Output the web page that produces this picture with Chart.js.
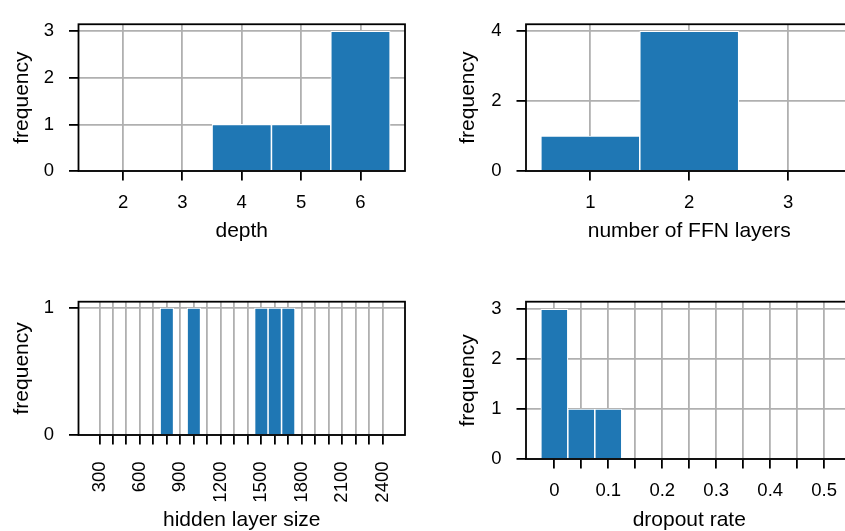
<!DOCTYPE html>
<html>
<head>
<meta charset="utf-8">
<script src="https://cdn.jsdelivr.net/npm/chart.js@4.4.1/dist/chart.umd.min.js"></script>
<style>
  html, body { margin: 0; padding: 0; background: #fff; overflow: hidden; width: 845px; height: 531px; }
  canvas { position: absolute; }
</style>
</head>
<body>
<canvas id="depth" width="420" height="260" style="left:0;top:0"></canvas>
<canvas id="ffn" width="440" height="260" style="left:420px;top:0"></canvas>
<canvas id="hidden" width="420" height="261" style="left:0;top:270px"></canvas>
<canvas id="dropout" width="440" height="261" style="left:420px;top:270px"></canvas>
<script>
// histogram bins (bin centres) and counts
var depthBins = [2, 3, 4, 5, 6];
var depthCounts = [0, 0, 1, 1, 3];
var depthTicks = [2, 3, 4, 5, 6];
var depthTickLabels = ['2', '3', '4', '5', '6'];
var depthCountTicks = [0, 1, 2, 3];

var ffnBins = [1, 2, 3];
var ffnCounts = [1, 4, 0];
var ffnTicks = [1, 2, 3];
var ffnTickLabels = ['1', '2', '3'];
var ffnCountTicks = [0, 2, 4];

var hiddenBins = [300, 400, 500, 600, 700, 800, 900, 1000, 1100, 1200, 1300,
  1400, 1500, 1600, 1700, 1800, 1900, 2000, 2100, 2200, 2300, 2400];
var hiddenCounts = [0, 0, 0, 0, 0, 1, 0, 1, 0, 0, 0,
  0, 1, 1, 1, 0, 0, 0, 0, 0, 0, 0];
var hiddenTicks = hiddenBins;
var hiddenTickLabels = ['300', '', '', '600', '', '', '900', '', '', '1200', '',
  '', '1500', '', '', '1800', '', '', '2100', '', '', '2400'];
var hiddenCountTicks = [0, 1];

var dropoutBins = [0, 0.05, 0.1, 0.15, 0.2, 0.25, 0.3, 0.35, 0.4, 0.45, 0.5];
var dropoutCounts = [3, 1, 1, 0, 0, 0, 0, 0, 0, 0, 0];
var dropoutTicks = dropoutBins;
var dropoutTickLabels = ['0', '', '0.1', '', '0.2', '', '0.3', '', '0.4', '', '0.5'];
var dropoutCountTicks = [0, 1, 2, 3];

var FONT = "'Liberation Sans', Arial, sans-serif";
var BLUE = '#1f77b4';
var GRID = '#b0b0b0';
var tickFont = { family: FONT, size: 18.5, lineHeight: 1 };
var titleFont = { family: FONT, size: 21, lineHeight: 1 };

// black box around the plot area, drawn over the bars
var framePlugin = {
  id: 'frame',
  afterDatasetsDraw: function (chart) {
    var a = chart.chartArea, ctx = chart.ctx;
    ctx.save();
    ctx.strokeStyle = '#000';
    ctx.lineWidth = 1.8;
    ctx.strokeRect(a.left, a.top, a.right - a.left, a.bottom - a.top);
    ctx.restore();
  }
};

function axisGrid() {
  return { offset: false, color: GRID, lineWidth: 1.8, tickLength: 9.5, tickColor: '#000', tickWidth: 1.8 };
}

function histChart(id, p) {
  return new Chart(document.getElementById(id), {
    type: 'bar',
    data: {
      datasets: [{
        data: p.bins.map(function (b, i) { return { x: b, y: p.counts[i] }; }),
        backgroundColor: BLUE,
        borderColor: '#fff',
        borderWidth: 1.1,
        categoryPercentage: 1,
        barPercentage: 1
      }]
    },
    options: {
      responsive: false,
      animation: false,
      layout: { padding: p.padding },
      plugins: { legend: { display: false }, tooltip: { enabled: false } },
      scales: {
        x: {
          type: 'linear', bounds: 'data', offset: false,
          min: p.xMin, max: p.xMax,
          afterBuildTicks: function (s) { s.ticks = p.xTicks.map(function (v) { return { value: v }; }); },
          afterFit: function (s) { s.height = p.xHeight; },
          grid: axisGrid(),
          border: { display: false },
          ticks: {
            autoSkip: false, padding: p.xPad, minRotation: p.rot, maxRotation: p.rot,
            color: '#000', font: tickFont,
            callback: function (v, i) { return p.xLabels[i]; }
          },
          title: { display: true, text: p.xTitle, color: '#000', font: titleFont, padding: { top: 0, bottom: p.xTitlePad } }
        },
        y: {
          type: 'linear', bounds: 'data',
          min: 0, max: p.yMax,
          afterBuildTicks: function (s) { s.ticks = p.yTicks.map(function (v) { return { value: v }; }); },
          afterFit: function (s) { s.width = p.yWidth; },
          grid: axisGrid(),
          border: { display: false },
          ticks: { padding: 15, color: '#000', font: tickFont, callback: function (v) { return String(v); } },
          title: { display: true, text: 'frequency', color: '#000', font: titleFont, padding: { top: p.yTitlePad, bottom: 0 } }
        }
      }
    },
    plugins: [framePlugin]
  });
}

histChart('depth', {
  bins: depthBins, counts: depthCounts,
  xTicks: depthTicks, xLabels: depthTickLabels, yTicks: depthCountTicks,
  xMin: 1.25, xMax: 6.75, yMax: 3.15, rot: 0,
  padding: { top: 12.7, right: 15, bottom: 0, left: 0 },
  xHeight: 89, yWidth: 78.5, xPad: 13.5, xTitle: 'depth', xTitlePad: 18.1, yTitlePad: 12
});

histChart('ffn', {
  bins: ffnBins, counts: ffnCounts,
  xTicks: ffnTicks, xLabels: ffnTickLabels, yTicks: ffnCountTicks,
  xMin: 0.35, xMax: 3.65, yMax: 4.2, rot: 0,
  padding: { top: 12.7, right: 7.5, bottom: 0, left: 0 },
  xHeight: 89, yWidth: 106, xPad: 13.5, xTitle: 'number of FFN layers', xTitlePad: 18.1, yTitlePad: 38
});

histChart('hidden', {
  bins: hiddenBins, counts: hiddenCounts,
  xTicks: hiddenTicks, xLabels: hiddenTickLabels, yTicks: hiddenCountTicks,
  xMin: 145, xMax: 2565, yMax: 1.05, rot: 90,
  padding: { top: 31.7, right: 15, bottom: 0, left: 0 },
  xHeight: 96, yWidth: 78.5, xPad: 17, xTitle: 'hidden layer size', xTitlePad: 0.7, yTitlePad: 12
});

histChart('dropout', {
  bins: dropoutBins, counts: dropoutCounts,
  xTicks: dropoutTicks, xLabels: dropoutTickLabels, yTicks: dropoutCountTicks,
  xMin: -0.0525, xMax: 0.5525, yMax: 3.15, rot: 0,
  padding: { top: 31.7, right: 7.5, bottom: 0, left: 0 },
  xHeight: 72, yWidth: 106, xPad: 13.5, xTitle: 'dropout rate', xTitlePad: 0.7, yTitlePad: 38
});
</script>
</body>
</html>
